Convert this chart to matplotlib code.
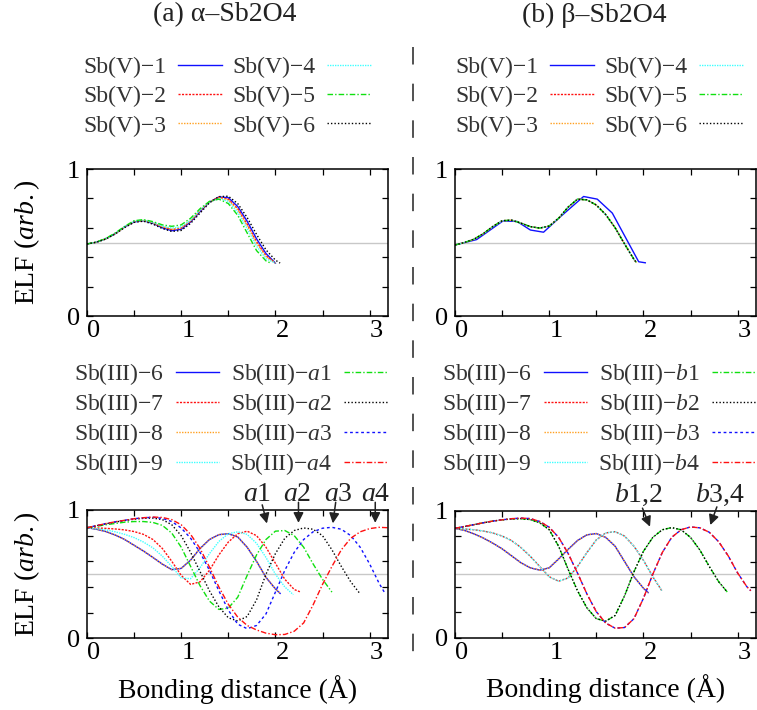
import matplotlib
matplotlib.use("Agg")
import matplotlib.pyplot as plt
from matplotlib.lines import Line2D

plt.rcParams['font.family'] = ['Liberation Serif', 'DejaVu Serif']
plt.rcParams['mathtext.fontset'] = 'custom'
plt.rcParams['mathtext.rm'] = 'Liberation Serif'
plt.rcParams['mathtext.it'] = 'Liberation Serif:italic'

# ---------------- data ----------------
grid = [0.0, 0.1, 0.2, 0.3, 0.4, 0.5, 0.6, 0.7, 0.8, 0.9, 1.0, 1.1, 1.2, 1.3,
        1.4, 1.5, 1.6, 1.7, 1.8, 1.9, 2.0, 2.1, 2.2, 2.3, 2.4, 2.5, 2.6, 2.7,
        2.8, 2.9, 3.0, 3.1]

# (a) alpha, Sb(V)
a_v1 = [0.49, 0.502, 0.525, 0.56, 0.605, 0.64, 0.648, 0.63, 0.60, 0.58, 0.59,
        0.64, 0.71, 0.775, 0.81, 0.805, 0.745, 0.645, 0.525, 0.425, 0.36]
a_v2 = [0.49, 0.502, 0.525, 0.56, 0.605, 0.642, 0.65, 0.632, 0.605, 0.588, 0.598,
        0.645, 0.715, 0.775, 0.808, 0.795, 0.73, 0.625, 0.505, 0.41, 0.36]
a_v3 = [0.49, 0.502, 0.525, 0.56, 0.605, 0.642, 0.65, 0.633, 0.607, 0.59, 0.60,
        0.648, 0.717, 0.776, 0.806, 0.79, 0.722, 0.615, 0.495, 0.405, 0.36]
a_v4 = [0.49, 0.502, 0.526, 0.562, 0.607, 0.645, 0.652, 0.636, 0.612, 0.598, 0.607,
        0.652, 0.72, 0.775, 0.80, 0.78, 0.705, 0.595, 0.475, 0.39, 0.36]
a_v5 = [0.49, 0.503, 0.528, 0.565, 0.61, 0.648, 0.656, 0.642, 0.62, 0.61, 0.62,
        0.665, 0.73, 0.78, 0.795, 0.765, 0.685, 0.565, 0.445, 0.375, 0.36]
a_v5_x = grid[:20] + [1.95]
a_v6 = [0.49, 0.502, 0.524, 0.558, 0.602, 0.637, 0.645, 0.625, 0.595, 0.575, 0.582,
        0.63, 0.70, 0.77, 0.812, 0.815, 0.765, 0.67, 0.555, 0.45, 0.38, 0.36]
a_v6_x = grid[:21] + [2.05]

# (b) beta, Sb(V)
b_v1_x = [0.0, 0.23, 0.51, 0.66, 0.80, 0.94, 1.12, 1.365, 1.51, 1.67, 1.95, 2.02]
b_v1 = [0.483, 0.52, 0.647, 0.643, 0.585, 0.57, 0.676, 0.813, 0.795, 0.70, 0.369, 0.362]
b_vx_x = grid[:20] + [1.93]
b_vx = [0.483, 0.50, 0.522, 0.56, 0.608, 0.648, 0.652, 0.632, 0.608, 0.598, 0.612,
        0.665, 0.74, 0.795, 0.79, 0.755, 0.69, 0.60, 0.49, 0.385, 0.36]

# (a) alpha, Sb(III)
a_6_x = grid[:21] + [2.05]
a_6 = [0.862, 0.85, 0.832, 0.805, 0.77, 0.725, 0.68, 0.63, 0.578, 0.535, 0.545,
       0.61, 0.70, 0.77, 0.808, 0.815, 0.79, 0.71, 0.60, 0.475, 0.385, 0.35]
a_7_x = grid[:23] + [2.27]
a_7 = [0.862, 0.86, 0.857, 0.852, 0.845, 0.832, 0.81, 0.77, 0.70, 0.60, 0.49,
       0.42, 0.44, 0.53, 0.65, 0.75, 0.815, 0.835, 0.80, 0.71, 0.585, 0.46,
       0.38, 0.36]
a_9_x = grid[:22] + [2.19]
a_9 = [0.862, 0.855, 0.845, 0.83, 0.81, 0.785, 0.75, 0.705, 0.64, 0.56, 0.47,
       0.465, 0.55, 0.66, 0.755, 0.815, 0.83, 0.81, 0.74, 0.63, 0.50, 0.40, 0.34]
a_a1_x = grid[:26] + [2.6]
a_a1 = [0.862, 0.873, 0.885, 0.895, 0.905, 0.91, 0.91, 0.903, 0.88, 0.82, 0.71,
        0.56, 0.41, 0.29, 0.225, 0.235, 0.32, 0.49, 0.65, 0.77, 0.835, 0.84,
        0.80, 0.71, 0.58, 0.46, 0.36]
a_a2_x = grid[:29] + [2.89]
a_a2 = [0.862, 0.877, 0.892, 0.906, 0.918, 0.928, 0.935, 0.937, 0.925, 0.885, 0.80,
        0.67, 0.52, 0.37, 0.245, 0.16, 0.135, 0.17, 0.30, 0.50, 0.66, 0.78, 0.84,
        0.86, 0.85, 0.80, 0.69, 0.56, 0.44, 0.355]
a_a3_x = grid[:32] + [3.16]
a_a3 = [0.862, 0.878, 0.894, 0.908, 0.92, 0.932, 0.94, 0.943, 0.935, 0.91, 0.86,
        0.78, 0.67, 0.53, 0.37, 0.22, 0.11, 0.075, 0.10, 0.19, 0.36, 0.53, 0.67,
        0.77, 0.83, 0.858, 0.865, 0.85, 0.80, 0.71, 0.58, 0.43, 0.355]
a_a4_x = grid[:32] + [3.19]
a_a4 = [0.862, 0.878, 0.894, 0.908, 0.92, 0.932, 0.94, 0.945, 0.942, 0.925, 0.885,
        0.81, 0.70, 0.555, 0.40, 0.265, 0.165, 0.10, 0.065, 0.04, 0.028, 0.03,
        0.055, 0.12, 0.26, 0.42, 0.56, 0.69, 0.78, 0.83, 0.855, 0.865, 0.862]

# (b) beta, Sb(III)
b_6_x = grid[:21] + [2.05]
b_6 = [0.861, 0.845, 0.818, 0.785, 0.745, 0.70, 0.645, 0.59, 0.55, 0.532, 0.55,
       0.62, 0.695, 0.765, 0.81, 0.82, 0.79, 0.72, 0.60, 0.48, 0.39, 0.355]
b_7_x = grid[:23]
b_7 = [0.861, 0.856, 0.85, 0.84, 0.825, 0.80, 0.765, 0.71, 0.64, 0.56, 0.48,
       0.445, 0.47, 0.56, 0.67, 0.77, 0.825, 0.835, 0.80, 0.72, 0.61, 0.48, 0.365]
b_b1_x = grid[:29] + [2.89]
b_b1 = [0.861, 0.875, 0.89, 0.905, 0.918, 0.928, 0.935, 0.937, 0.93, 0.905, 0.85,
        0.72, 0.54, 0.37, 0.235, 0.15, 0.13, 0.175, 0.33, 0.52, 0.68, 0.79, 0.85,
        0.867, 0.85, 0.79, 0.69, 0.56, 0.44, 0.36]
b_b3_x = grid[:32] + [3.14]
b_b3 = [0.861, 0.876, 0.89, 0.905, 0.918, 0.928, 0.937, 0.942, 0.938, 0.915, 0.87,
        0.79, 0.665, 0.51, 0.345, 0.205, 0.115, 0.075, 0.08, 0.15, 0.31, 0.50,
        0.67, 0.79, 0.85, 0.872, 0.865, 0.83, 0.755, 0.645, 0.51, 0.40, 0.37]

# peak labels: text, label centre x, arrow start, arrow tip
a_marks = [('$a$1', 1.81, (1.86, 1.04), (1.91, 0.895)),
           ('$a$2', 2.23, (2.245, 1.06), (2.245, 0.90)),
           ('$a$3', 2.67, (2.64, 1.06), (2.61, 0.896)),
           ('$a$4', 3.06, (3.06, 1.06), (3.06, 0.90))]
b_marks = [('$b$1,2', 1.95, (1.99, 1.02), (2.07, 0.874)),
           ('$b$3,4', 2.81, (2.78, 1.03), (2.71, 0.887))]

# line styles
BLUE, RED, ORANGE, CYAN, GREEN = '#1010ff', '#ff1010', '#ffa020', '#40ffff', '#10e010'
st_solid = '-'
st_red = (0, (1.5, 1.0))
st_orange = (0, (1.0, 1.0))
st_cyan = (0, (1.0, 0.8))
st_dashdot = (0, (4.0, 1.5, 1.0, 1.5))
st_black = (0, (1.0, 1.5))
st_dash = (0, (2.0, 2.0))

LW = 1.0

fig = plt.figure(figsize=(7.57, 7.10), dpi=100)
W, H = 757.0, 710.0


def px_axes(x0, y_top, x1, y_bot):
    return fig.add_axes([x0 / W, 1 - y_bot / H, (x1 - x0) / W, (y_bot - y_top) / H])


def style_axes(ax, ylabel=False, xlabel=False):
    ax.set_xlim(0, 3.19)
    ax.set_ylim(0, 1)
    ax.set_xticks([0, 1, 2, 3])
    ax.set_xticks([0.5, 1.5, 2.5], minor=True)
    ax.set_yticks([0, 1])
    ax.set_yticks([0.2, 0.4, 0.6, 0.8], minor=True)
    ax.tick_params(which='both', direction='in', top=True, right=True,
                   length=4, width=0.9, labelsize=19)
    ax.tick_params(axis='x', pad=3)
    ax.tick_params(axis='y', pad=5)
    for lab in ax.get_xticklabels():
        lab.set_horizontalalignment('left')
    for s in ax.spines.values():
        s.set_linewidth(1.1)
    ax.axhline(0.5, color='#c8c8c8', lw=1.0, zorder=0)
    if ylabel:
        ax.set_ylabel('ELF ($arb.$)', fontsize=20)
        ax.yaxis.set_label_coords(-0.15, 0.5)
    if xlabel:
        ax.set_xlabel('Bonding distance (Å)', fontsize=20)
        ax.xaxis.set_label_coords(0.5, -0.29)


def add_legend(ax, x_left, y_mid, spacing):
    leg = ax.legend(ncol=2, markerfirst=False, frameon=False, fontsize=17,
                    handlelength=1.85, handletextpad=0.5, columnspacing=0.45,
                    labelspacing=spacing, borderpad=0, borderaxespad=0,
                    loc='center left', bbox_to_anchor=(x_left / W, 1 - y_mid / H),
                    bbox_transform=fig.transFigure)
    for t in leg.get_texts():
        t.set_color('#333333')
    return leg


def add_marks(ax, marks):
    for txt, xc, start, tip in marks:
        ax.text(xc, 1.068, txt, ha='center', va='baseline', fontsize=20,
                color='#222222', clip_on=False)
        ax.annotate('', xy=tip, xytext=start, annotation_clip=False,
                    arrowprops=dict(arrowstyle='-|>', color='#222222', lw=1.1,
                                    mutation_scale=15, shrinkA=0, shrinkB=0))


# ---- (a) top
ax1 = px_axes(87, 169, 387.5, 316)
ax1.plot(grid[:21], a_v1, color=BLUE, ls=st_solid, lw=LW, label='Sb(V)−1')
ax1.plot(grid[:21], a_v2, color=RED, ls=st_red, lw=LW, label='Sb(V)−2')
ax1.plot(grid[:21], a_v3, color=ORANGE, ls=st_orange, lw=LW, label='Sb(V)−3')
ax1.plot(grid[:21], a_v4, color=CYAN, ls=st_cyan, lw=LW, label='Sb(V)−4')
ax1.plot(a_v5_x, a_v5, color=GREEN, ls=st_dashdot, lw=LW, label='Sb(V)−5')
ax1.plot(a_v6_x, a_v6, color='k', ls=st_black, lw=LW, label='Sb(V)−6')
style_axes(ax1, ylabel=True)
add_legend(ax1, 83, 96.5, 0.33)

# ---- (b) top
ax2 = px_axes(455, 169, 755.5, 316)
ax2.plot(b_v1_x, b_v1, color=BLUE, ls=st_solid, lw=LW, label='Sb(V)−1')
ax2.plot(b_vx_x, b_vx, color=RED, ls=st_red, lw=LW, label='Sb(V)−2')
ax2.plot(b_vx_x, b_vx, color=ORANGE, ls=st_orange, lw=LW, label='Sb(V)−3')
ax2.plot(b_vx_x, b_vx, color=CYAN, ls=st_cyan, lw=LW, label='Sb(V)−4')
ax2.plot(b_vx_x, b_vx, color=GREEN, ls=st_dashdot, lw=LW, label='Sb(V)−5')
ax2.plot(b_vx_x, b_vx, color='k', ls=st_black, lw=LW, label='Sb(V)−6')
style_axes(ax2)
add_legend(ax2, 455, 96.5, 0.33)

# ---- (a) bottom  (all labels go through mathtext so the two legend columns line up)
ax3 = px_axes(87, 510, 387.5, 638.3)
ax3.plot(a_6_x, a_6, color=BLUE, ls=st_solid, lw=LW, label='Sb(III)−$\\mathrm{6}$')
ax3.plot(a_7_x, a_7, color=RED, ls=st_red, lw=LW, label='Sb(III)−$\\mathrm{7}$')
ax3.plot(a_6_x, a_6, color=ORANGE, ls=st_orange, lw=LW, label='Sb(III)−$\\mathrm{8}$')
ax3.plot(a_9_x, a_9, color=CYAN, ls=st_cyan, lw=LW, label='Sb(III)−$\\mathrm{9}$')
ax3.plot(a_a1_x, a_a1, color=GREEN, ls=st_dashdot, lw=LW, label='Sb(III)−$a$1')
ax3.plot(a_a2_x, a_a2, color='k', ls=st_black, lw=LW, label='Sb(III)−$a$2')
ax3.plot(a_a3_x, a_a3, color=BLUE, ls=st_dash, lw=LW, label='Sb(III)−$a$3')
ax3.plot(a_a4_x, a_a4, color=RED, ls=st_dashdot, lw=LW, label='Sb(III)−$a$4')
style_axes(ax3, ylabel=True, xlabel=True)
add_legend(ax3, 74, 419, 0.17)
add_marks(ax3, a_marks)

# ---- (b) bottom
ax4 = px_axes(455, 510.7, 755.5, 637.7)
ax4.plot(b_6_x, b_6, color=BLUE, ls=st_solid, lw=LW, label='Sb(III)−$\\mathrm{6}$')
ax4.plot(b_7_x, b_7, color=RED, ls=st_red, lw=LW, label='Sb(III)−$\\mathrm{7}$')
ax4.plot(b_6_x, b_6, color=ORANGE, ls=st_orange, lw=LW, label='Sb(III)−$\\mathrm{8}$')
ax4.plot(b_7_x, b_7, color=CYAN, ls=st_cyan, lw=LW, label='Sb(III)−$\\mathrm{9}$')
ax4.plot(b_b1_x, b_b1, color=GREEN, ls=st_dashdot, lw=LW, label='Sb(III)−$b$1')
ax4.plot(b_b1_x, b_b1, color='k', ls=st_black, lw=LW, label='Sb(III)−$b$2')
ax4.plot(b_b3_x, b_b3, color=BLUE, ls=st_dash, lw=LW, label='Sb(III)−$b$3')
ax4.plot(b_b3_x, b_b3, color=RED, ls=st_dashdot, lw=LW, label='Sb(III)−$b$4')
style_axes(ax4, xlabel=True)
add_legend(ax4, 442, 419, 0.17)
add_marks(ax4, b_marks)

# panel titles
fig.text(225 / W, 1 - 15 / H, '(a) α–Sb2O4', ha='center', va='center', fontsize=20, color='#222222')
fig.text(594 / W, 1 - 15 / H, '(b) β–Sb2O4', ha='center', va='center', fontsize=20, color='#222222')

# dashed divider between the two columns
fig.add_artist(Line2D([413 / W, 413 / W], [1 - 47 / H, 1 - 670 / H], transform=fig.transFigure,
                      color='#333333', lw=1.2, dashes=(10.5, 11.5)))

fig.savefig('out.png', dpi=100)
